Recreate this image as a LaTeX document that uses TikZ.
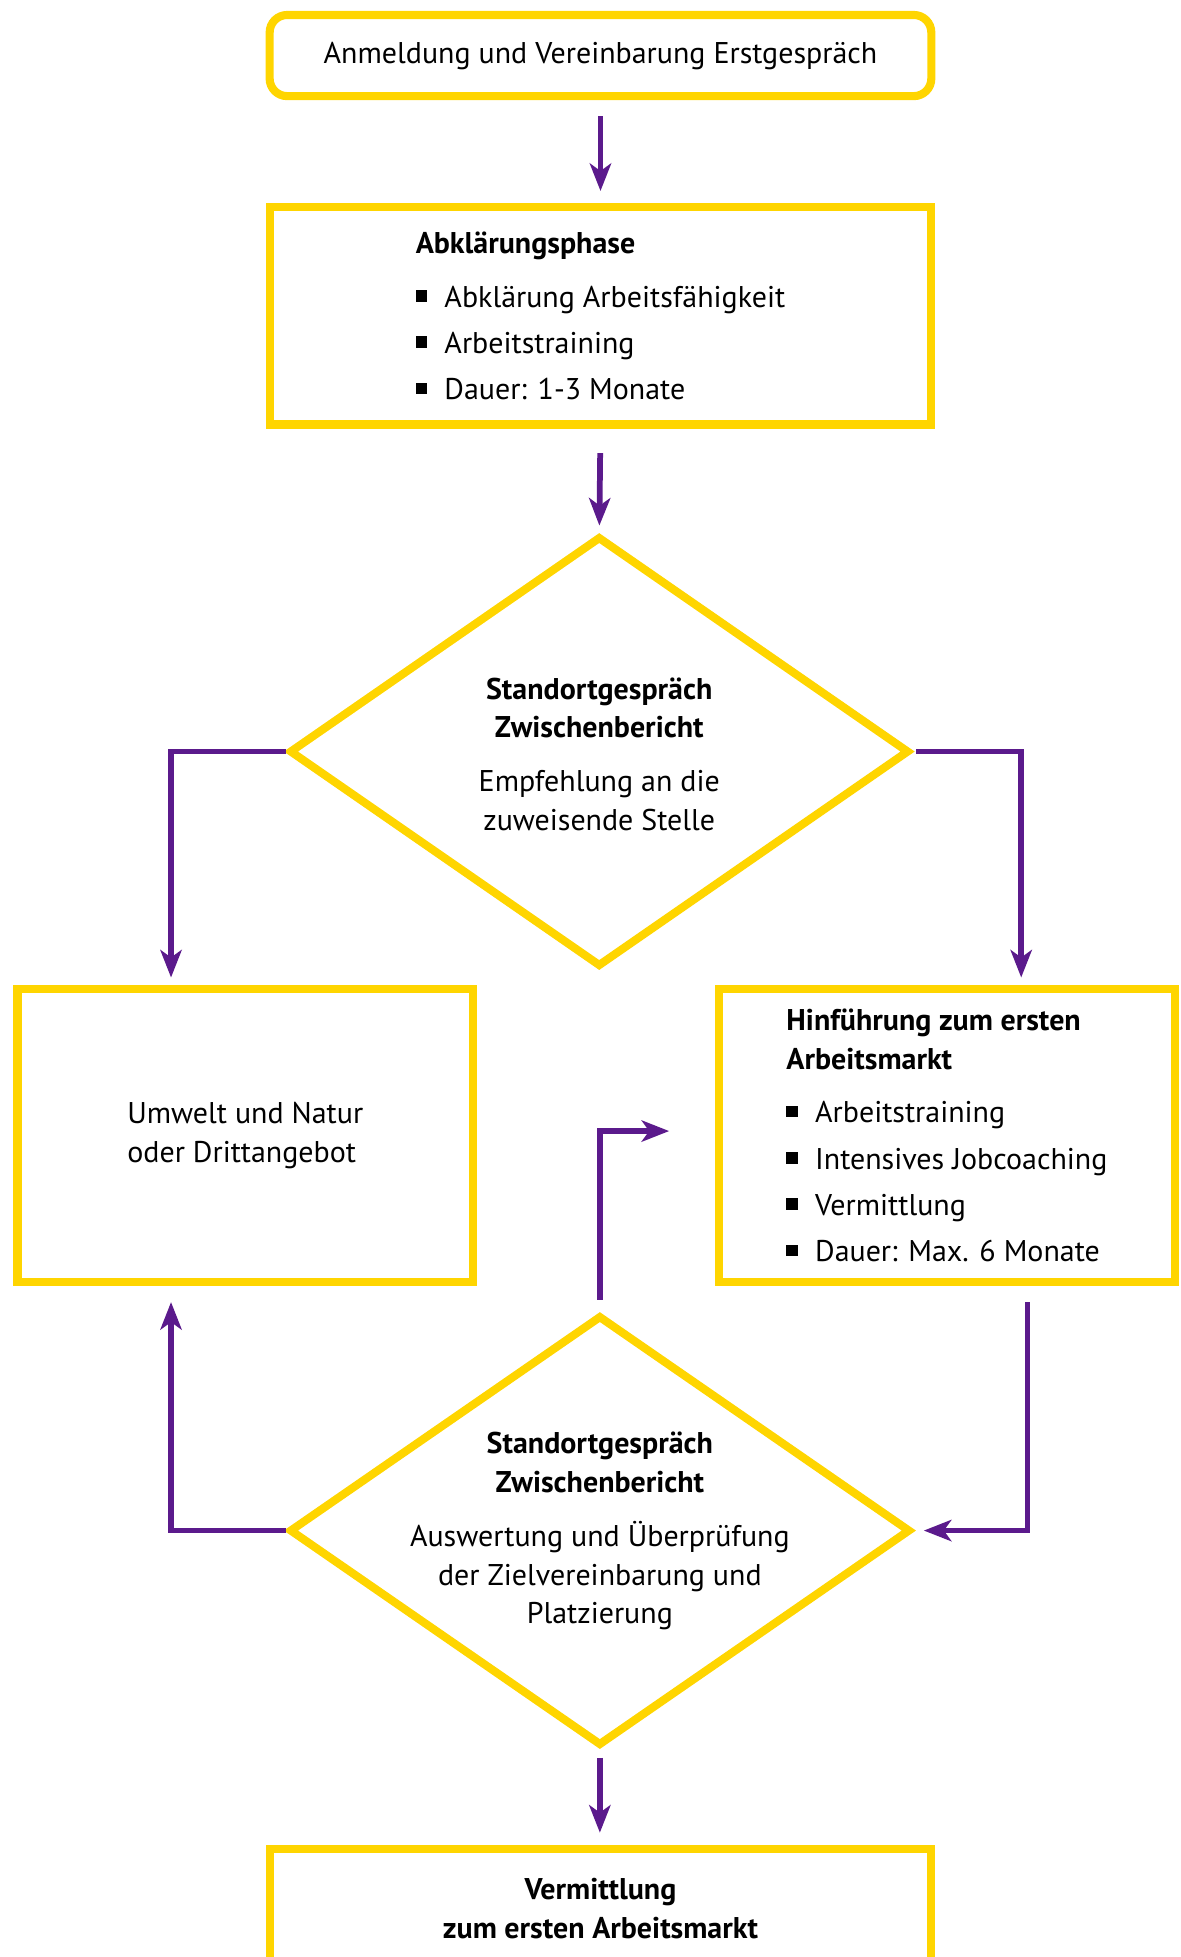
\documentclass[tikz,border=0pt]{standalone}
\usepackage{fontspec}
\setmainfont{PT Sans}
\usepackage{xcolor}
\usepackage{tikz}
\usetikzlibrary{arrows.meta,shapes.geometric}
\definecolor{gelb}{HTML}{FFD500}
\definecolor{lila}{HTML}{5B1A8C}
\newcommand{\pkt}{\raisebox{4.5pt}{\rule{9pt}{9pt}}\hspace{14pt}}
\tikzset{
  flowFont/.style={text=black, font=\fontsize{24}{31}\selectfont},
  flowStart/.style={draw=gelb, line width=6.5pt, rounded corners=14pt, outer sep=0pt,
    minimum width=530pt, minimum height=65pt, flowFont},
  flowBox/.style={draw=gelb, line width=6.5pt, outer sep=0pt, align=left, flowFont},
  flowRaute/.style={diamond, draw=gelb, line width=6.5pt, outer sep=0pt, inner sep=0pt},
  flowText/.style={align=center, flowFont},
  flowArrow/.style={draw=lila, line width=4.6pt, -{Stealth[length=22pt,width=17pt,inset=6pt]}}
}

\begin{document}
\begin{tikzpicture}[x=1pt, y=-1pt]
  \useasboundingbox (0,0) rectangle (946,1567.6);

  \node[flowStart] (start) at (481,44.5) {Anmeldung und Vereinbarung Erstgespräch};

  \node[flowBox, minimum width=530pt, minimum height=174pt] (phase) at (481,253)
    {\textbf{Abklärungsphase}\\[12pt]
     \pkt Abklärung Arbeitsfähigkeit\\[6pt]
     \pkt Arbeitstraining\\[6pt]
     \pkt Dauer: 1-3 Monate};

  % erstes Standortgespraech
  \node[flowRaute, minimum width=494pt, minimum height=342pt] (d1) at (480,602) {};
  \node[flowText] (d1text) at (480,604)
    {\textbf{Standortgespräch}\\\textbf{Zwischenbericht}\\[12pt]
     Empfehlung an die\\zuweisende Stelle};

  \node[flowBox, minimum width=365pt, minimum height=235pt] (umwelt) at (196.5,909.5)
    {Umwelt und Natur\\oder Drittangebot};

  \node[flowBox, minimum width=365pt, minimum height=235pt] (hinf) at (758.5,909.5)
    {\textbf{Hinführung zum ersten}\\\textbf{Arbeitsmarkt}\\[12pt]
     \pkt Arbeitstraining\\[6pt]
     \pkt Intensives Jobcoaching\\[6pt]
     \pkt Vermittlung\\[6pt]
     \pkt Dauer: Max. 6 Monate};

  % zweites Standortgespraech
  \node[flowRaute, minimum width=495pt, minimum height=342pt] (d2) at (480.5,1226) {};
  \node[flowText] (d2text) at (480.5,1226.5)
    {\textbf{Standortgespräch}\\\textbf{Zwischenbericht}\\[12pt]
     Auswertung und Überprüfung\\der Zielvereinbarung und\\Platzierung};

  \node[flowBox, align=center, minimum width=530pt, minimum height=95pt] (ziel) at (481,1528.5)
    {\textbf{Vermittlung}\\\textbf{zum ersten Arbeitsmarkt}};

  \draw[flowArrow, shorten <=16pt, shorten >=13pt] (start.south) -- (phase.north);
  \draw[flowArrow, shorten <=23pt, shorten >=10pt] (phase.south) -- (d1.north);
  \draw[flowArrow, shorten <=4pt, shorten >=9pt] (d1.west) -| ([xshift=-59.5pt]umwelt.north);
  \draw[flowArrow, shorten <=7pt, shorten >=9pt] (d1.east) -| ([xshift=59.5pt]hinf.north);
  \draw[flowArrow, shorten <=14pt] (d2.north) |- ([xshift=-40pt,yshift=3.5pt]hinf.west);
  \draw[flowArrow, shorten <=16pt, shorten >=12pt] ([xshift=64.5pt]hinf.south) |- (d2.east);
  \draw[flowArrow, shorten <=4pt, shorten >=16pt] (d2.west) -| ([xshift=-59.5pt]umwelt.south);
  \draw[flowArrow, shorten <=11pt, shorten >=13pt] (d2.south) -- (d2.south |- ziel.north);
\end{tikzpicture}
\end{document}
